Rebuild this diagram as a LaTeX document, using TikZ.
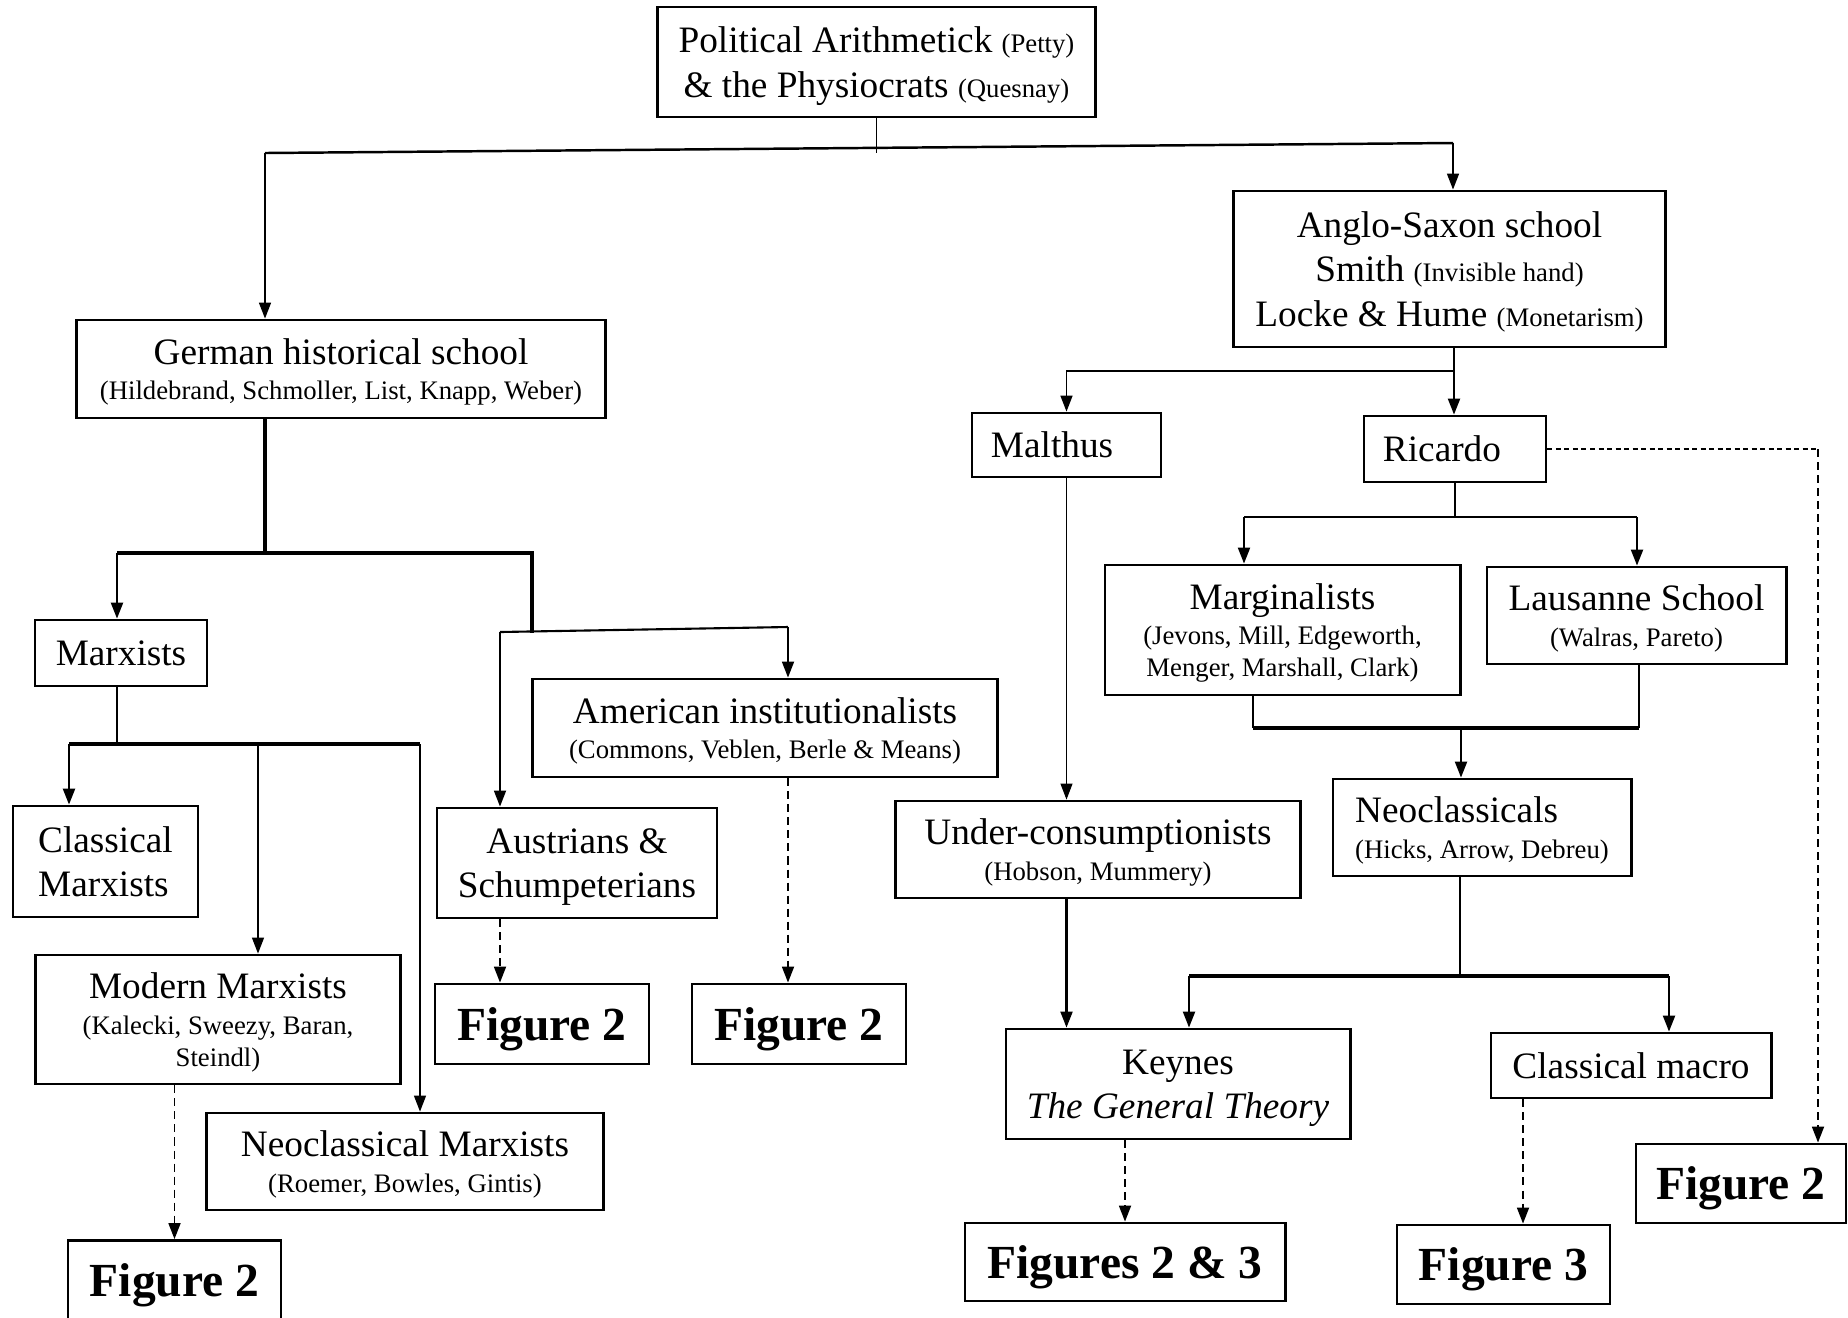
\documentclass[tikz,border=0pt]{standalone}
\usepackage{fontspec}
\setmainfont{Liberation Serif}
\usetikzlibrary{arrows.meta,positioning}
\newcommand\tagfont{\fontsize{7.6}{9.1}\selectfont}
\newcommand\figfont{\fontsize{13.5}{16}\selectfont\bfseries}
\tikzset{
  >={Triangle[length=1.6mm,width=1.2mm]},
  box/.style 2 args={draw,line width=0.8pt,inner sep=0pt,align=center,text depth=-1pt,
    minimum width=#1mm,minimum height=#2mm,font=\fontsize{10.6}{12.6}\selectfont},
  fig/.style 2 args={box={#1}{#2},font=\figfont},
  link/.style={->,line width=#1},
  link/.default=0.45pt,
  bar/.style={line width=1pt},
  dlink/.style={->,line width=0.5pt,dash pattern=on 0.8mm off 0.5mm},
}

\begin{document}
\begin{tikzpicture}[x=0.01cm,y=-0.01cm]
  \useasboundingbox (0,0) rectangle (1848,1317);
  % schools
  \node[box={43.7}{11}] (petty) at (876.5,62) {Political Arithmetick {\tagfont(Petty)}\\\& the Physiocrats {\tagfont(Quesnay)}};
  \node[box={43.1}{15.6}] (anglo) at (1449.5,269) {Anglo-Saxon school\\Smith {\tagfont(Invisible hand)}\\Locke \& Hume {\tagfont(Monetarism)}};
  \node[box={52.8}{9.8}] (german) at (341,369) {German historical school\\[-2.5pt]{\tagfont(Hildebrand, Schmoller, List, Knapp, Weber)}};
  \node[box={18.9}{6.4},align=flush left,text width=15.1mm] (malthus) at (1066.5,445) {Malthus};
  \node[box={18.2}{6.6},align=flush left,text width=14.4mm] (ricardo) at (1455,449) {Ricardo};
  \node[box={35.5}{13}] (marginal) at (1282.5,630) {Marginalists\\[-2.5pt]{\tagfont(Jevons, Mill, Edgeworth,}\\[-3.5pt]{\tagfont Menger, Marshall, Clark)}};
  \node[box={29.9}{9.7}] (lausanne) at (1636.5,615.5) {Lausanne School\\[-2.5pt]{\tagfont(Walras, Pareto)}};
  \node[box={29.8}{9.7},align=flush left] (neocl) at (1482,827.5) {Neoclassicals\\[-2.5pt]{\tagfont(Hicks, Arrow, Debreu)}};
  \node[box={40.4}{9.7}] (under) at (1098,849.5) {Under-consumptionists\\[-2.5pt]{\tagfont(Hobson, Mummery)}};
  \node[box={34.4}{11}] (keynes) at (1178,1084) {Keynes\\\textit{The General Theory}};
  \node[box={28}{6.5}] (cmacro) at (1631,1065.5) {Classical macro};
  \node[box={17.2}{6.6}] (marx) at (121,653) {Marxists};
  \node[box={46.4}{9.8}] (amer) at (765,728) {American institutionalists\\[-2.5pt]{\tagfont(Commons, Veblen, Berle \& Means)}};
  \node[box={28}{11}] (austr) at (577,863) {Austrians \&\\Schumpeterians};
  \node[box={18.5}{11.1},align=flush left] (classm) at (105.5,861.5) {Classical\\Marxists};
  \node[box={36.4}{12.9}] (modm) at (218,1019.5) {Modern Marxists\\[-2.5pt]{\tagfont(Kalecki, Sweezy, Baran,}\\[-3.5pt]{\tagfont Steindl)}};
  \node[box={39.6}{9.7}] (neom) at (405,1161.5) {Neoclassical Marxists\\[-2.5pt]{\tagfont(Roemer, Bowles, Gintis)}};
  % figure references
  \node[fig={21.4}{8}] (figA) at (542,1024) {Figure 2};
  \node[fig={21.4}{8}] (figB) at (799,1024) {Figure 2};
  \node[fig={21.3}{7.9}] (figC) at (174.5,1280) {Figure 2};
  \node[fig={32}{7.8}] (fig23) at (1125,1262) {Figures 2 \& 3};
  \node[fig={21.3}{7.9}] (fig3) at (1503.5,1264.5) {Figure 3};
  \node[fig={21}{7.9}] (figR) at (1741,1183.5) {Figure 2};

  % top split
  \coordinate (tl) at (265,153);
  \coordinate (tr) at (1453,143);
  \draw[line width=0.45pt] (petty.south) -- (petty.south |- tl);
  \draw[line width=0.7pt] (tl) -- (tr);
  \draw[link] (tl) -- (tl |- german.north);
  \draw[link] (tr) -- (tr |- anglo.north);

  % Anglo-Saxon branch
  \coordinate (aj) at (1454,371);
  \draw[link=0.6pt] (aj |- anglo.south) -- (aj |- ricardo.north);
  \draw[link] (aj) -| (malthus.north);

  % Ricardo branch
  \coordinate (rl) at (1244,517);
  \coordinate (rr) at (1637,517);
  \draw[line width=0.45pt] (ricardo.south) -- (ricardo.south |- rl);
  \draw[line width=0.7pt] (rl) -- (rr);
  \draw[link=0.6pt] (rl) -- (rl |- marginal.north);
  \draw[link=0.6pt] (rr) -- (rr |- lausanne.north);

  % merge into neoclassicals
  \coordinate (ml) at (1253,728);
  \coordinate (mr) at (1639,728);
  \coordinate (mj) at (1461,728);
  \draw[line width=0.6pt] (ml |- marginal.south) -- (ml);
  \draw[line width=0.6pt] (mr |- lausanne.south) -- (mr);
  \draw[bar] (ml) -- (mr);
  \draw[link=0.6pt] (mj) -- (mj |- neocl.north);

  % neoclassicals split
  \coordinate (nl) at (1189,976);
  \coordinate (nj) at (1460,976);
  \coordinate (nr) at (1669,976);
  \draw[line width=0.45pt] (nj |- neocl.south) -- (nj);
  \draw[bar] (nl) -- (nr);
  \draw[link=0.6pt] (nl) -- (nl |- keynes.north);
  \draw[link=0.6pt] (nr) -- (nr |- cmacro.north);

  % Malthus line
  \draw[link=0.3pt] (malthus.south) -- (malthus.south |- under.north);
  \draw[link=0.6pt] (malthus.south |- under.south) -- (malthus.south |- keynes.north);

  % right dashed
  \coordinate (cd) at (1523,1098);
  \coordinate (rc) at (1818,449);
  \draw[dlink] (fig23.north |- keynes.south) -- (fig23.north);
  \draw[dlink] (cd |- cmacro.south) -- (cd |- fig3.north);
  \draw[line width=0.5pt,dash pattern=on 0.5mm off 0.35mm] (ricardo.east) -- (rc);
  \draw[dlink] (rc) -- (rc |- figR.north);

  % German branch
  \coordinate (gl) at (117,553);
  \coordinate (gj) at (265,553);
  \coordinate (gr) at (532,553);
  \coordinate (gs) at (532,633);
  \draw[line width=0.9pt] (gj |- german.south) -- (gj);
  \draw[bar] (gl) -- (gr) -- (gs);
  \draw[link=0.7pt] (gl) -- (gl |- marx.north);
  \coordinate (il) at (500,632);
  \coordinate (ir) at (788,627);
  \draw[line width=0.6pt] (il) -- (ir);
  \draw[link=0.5pt] (il) -- (il |- austr.north);
  \draw[link=0.5pt] (ir) -- (ir |- amer.north);

  % Marxist branch
  \coordinate (xl) at (69,744);
  \coordinate (xj) at (117,744);
  \coordinate (xm) at (258,744);
  \coordinate (xr) at (420,744);
  \draw[line width=0.8pt] (xj |- marx.south) -- (xj);
  \draw[bar] (xl) -- (xr);
  \draw[link=0.7pt] (xl) -- (xl |- classm.north);
  \draw[link=0.4pt] (xm) -- (xm |- modm.north);
  \draw[link=0.4pt] (xr) -- (xr |- neom.north);

  % left dashed
  \draw[dlink] (il |- austr.south) -- (il |- figA.north);
  \draw[dlink] (ir |- amer.south) -- (ir |- figB.north);
  \draw[dlink] (figC.north |- modm.south) -- (figC.north);
\end{tikzpicture}
\end{document}
